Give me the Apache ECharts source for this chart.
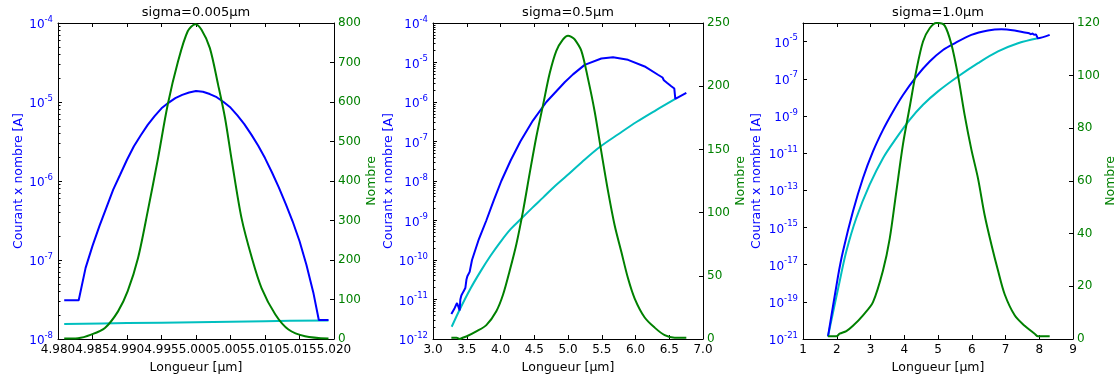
<!DOCTYPE html>
<html><head><meta charset="utf-8">
<script src="https://cdn.jsdelivr.net/npm/echarts@6/dist/echarts.min.js"></script>
<style>html,body{margin:0;padding:0;background:#fff}#chart{width:1117px;height:376px}</style>
</head><body><div id="chart"></div>
<script>
const FONT = 'DejaVu Sans';
const BLUE = '#0000ff', CYAN = '#00bfbf', GREEN = '#008000', AX = '#000000';

const titles = ['sigma=0.005µm', 'sigma=0.5µm', 'sigma=1.0µm'];
const xName = 'Longueur [µm]';
const leftName = 'Courant x nombre [A]';
const rightName = 'Nombre';

// ---- panel 1 (sigma = 0.005 µm)
const p1BlueX = [4.9809, 4.9830, 4.9840, 4.985, 4.986, 4.987, 4.988, 4.989, 4.990, 4.991, 4.992, 4.993, 4.994, 4.995, 4.996, 4.997, 4.998, 4.999, 5.000, 5.001, 5.002, 5.003, 5.004, 5.005, 5.006, 5.007, 5.008, 5.009, 5.010, 5.011, 5.012, 5.013, 5.014, 5.015, 5.016, 5.017, 5.0178, 5.0192];
const p1Blue = [3.09e-8, 3.09e-8, 7.94e-8, 1.51e-7, 2.69e-7, 4.57e-7, 7.76e-7, 1.20e-6, 1.86e-6, 2.75e-6, 3.80e-6, 5.13e-6, 6.61e-6, 8.32e-6, 9.77e-6, 1.12e-5, 1.23e-5, 1.32e-5, 1.38e-5, 1.35e-5, 1.26e-5, 1.15e-5, 1.00e-5, 8.51e-6, 6.76e-6, 5.25e-6, 3.89e-6, 2.82e-6, 1.95e-6, 1.29e-6, 8.32e-7, 5.13e-7, 3.09e-7, 1.74e-7, 8.71e-8, 3.89e-8, 1.74e-8, 1.74e-8];
const p1CyanX = [4.9809, 4.990, 5.000, 5.010, 5.0192];
const p1Cyan = [1.55e-8, 1.59e-8, 1.63e-8, 1.68e-8, 1.72e-8];
const p1GreenX = [4.9809, 4.9829, 4.9848, 4.9868, 4.9887, 4.9901, 4.9916, 4.9930, 4.9945, 4.9959, 4.9974, 4.9988, 4.9999, 5.0008, 5.0020, 5.0032, 5.0042, 5.0052, 5.0066, 5.0081, 5.0095, 5.0115, 5.0134, 5.0158, 5.0192];
const p1Green = [1, 2, 11, 28, 70, 121, 205, 323, 458, 593, 703, 779, 797, 783, 737, 644, 560, 450, 306, 205, 129, 62, 24, 7, 1];

// ---- panel 2 (sigma = 0.5 µm)
const p2BlueX = [3.272, 3.320, 3.356, 3.380, 3.395, 3.405, 3.420, 3.450, 3.479, 3.495, 3.509, 3.543, 3.578, 3.680, 3.790, 3.900, 4.012, 4.150, 4.294, 4.480, 4.679, 4.951, 5.074, 5.247, 5.494, 5.667, 5.889, 6.136, 6.333, 6.400, 6.420, 6.440, 6.470, 6.490, 6.530, 6.550, 6.575, 6.590, 6.753];
const p2Blue = [4.27e-12, 6.03e-12, 8.13e-12, 6.31e-12, 5.25e-12, 1.00e-11, 1.26e-11, 1.58e-11, 1.95e-11, 3.16e-11, 3.89e-11, 5.01e-11, 1.00e-10, 3.39e-10, 1.00e-9, 3.24e-9, 1.00e-8, 3.31e-8, 1.00e-7, 3.39e-7, 1.00e-6, 3.16e-6, 5.01e-6, 8.71e-6, 1.26e-5, 1.35e-5, 1.17e-5, 7.94e-6, 4.90e-6, 4.17e-6, 3.55e-6, 3.80e-6, 3.02e-6, 3.16e-6, 2.51e-6, 2.63e-6, 2.19e-6, 1.20e-6, 1.70e-6];
const p2CyanX = [3.277, 3.40, 3.55, 3.70, 3.85, 4.00, 4.15, 4.31, 4.47, 4.63, 4.80, 4.98, 5.20, 5.47, 5.75, 6.02, 6.30, 6.59];
const p2Cyan = [2.04e-12, 5.75e-12, 1.82e-11, 5.01e-11, 1.26e-10, 2.88e-10, 6.03e-10, 1.12e-9, 2.09e-9, 3.80e-9, 7.24e-9, 1.35e-8, 2.95e-8, 7.24e-8, 1.55e-7, 3.16e-7, 6.17e-7, 1.20e-6];
const p2GreenX = [3.272, 3.350, 3.395, 3.440, 3.494, 3.642, 3.790, 3.938, 4.037, 4.136, 4.235, 4.333, 4.432, 4.531, 4.630, 4.728, 4.827, 4.926, 5.000, 5.050, 5.099, 5.198, 5.296, 5.395, 5.494, 5.593, 5.691, 5.790, 5.889, 5.988, 6.136, 6.284, 6.432, 6.580, 6.753];
const p2Green = [1, 1, 0, 1, 2, 6, 11, 22, 35, 54, 75, 101, 131, 160, 185, 210, 228, 237, 240, 239, 237, 228, 206, 180, 148, 117, 90, 69, 48, 32, 17, 9, 3, 1, 1];

// ---- panel 3 (sigma = 1.0 µm)
const p3BlueX = [1.741, 2.037, 2.185, 2.481, 2.778, 3.074, 3.370, 3.667, 3.963, 4.358, 4.753, 5.148, 5.494, 5.988, 6.481, 6.877, 7.272, 7.568, 7.70, 7.75, 7.80, 7.85, 7.90, 7.963, 8.309];
const p3Blue = [1.38e-21, 2.34e-18, 5.25e-17, 7.41e-15, 4.57e-13, 1.23e-11, 1.78e-10, 1.74e-9, 1.35e-8, 1.32e-7, 8.51e-7, 3.55e-6, 8.13e-6, 2.29e-5, 3.98e-5, 4.68e-5, 3.98e-5, 3.09e-5, 2.82e-5, 2.51e-5, 2.69e-5, 2.34e-5, 2.40e-5, 1.51e-5, 2.29e-5];
const p3CyanX = [1.741, 2.086, 2.284, 2.580, 2.975, 3.370, 3.765, 4.160, 4.556, 5.000, 5.593, 6.185, 6.778, 7.370, 7.963];
const p3Cyan = [1.38e-21, 1.26e-18, 5.25e-17, 3.24e-15, 2.00e-13, 5.37e-12, 6.46e-11, 6.17e-10, 3.98e-9, 2.09e-8, 1.32e-7, 6.92e-7, 2.95e-6, 8.13e-6, 1.51e-5];
const p3GreenX = [1.741, 1.990, 2.086, 2.284, 2.481, 2.778, 3.074, 3.370, 3.568, 3.765, 3.963, 4.160, 4.358, 4.556, 4.753, 4.951, 5.000, 5.198, 5.395, 5.593, 5.790, 5.988, 6.185, 6.383, 6.580, 6.778, 6.975, 7.272, 7.568, 7.864, 7.963, 8.309];
const p3Green = [1, 1, 2, 3, 5, 9, 14, 26, 38, 56, 74, 88, 102, 113, 118, 120, 120, 119, 112, 100, 85, 72, 61, 47, 36, 26, 17, 9, 5, 2, 1, 1];

// axis ranges / ticks
const xRanges = [[4.98, 5.02, 0.005, 3], [3, 7, 0.5, 1], [1, 9, 1, 0]];
const rightRanges = [[0, 800, 100], [0, 250, 50], [0, 120, 20]];

function zip(xs, ys, f) { return xs.map((x, i) => [x, f ? f(ys[i]) : ys[i]]); }
function sup(e) { return '{b|10}{s|' + e + '}'; }
const richSup = {
  b: { fontSize: 12, lineHeight: 16, verticalAlign: 'bottom', color: BLUE, fontFamily: FONT },
  s: { fontSize: 8.5, lineHeight: 9, verticalAlign: 'top', color: BLUE, fontFamily: FONT }
};

const grids = [
  { left: 58, top: 23, width: 276, height: 316 },
  { left: 433, top: 23, width: 270, height: 316 },
  { left: 803, top: 23, width: 270, height: 316 }
].map(g => Object.assign({ outerBoundsMode: 'none', containLabel: false, show: false }, g));

const leftGaps = [33, 38, 40];
const rightGaps = [25, 26, 24];

const tick = { show: true, inside: true, length: 4, lineStyle: { color: AX, width: 1 } };
const line = { show: true, onZero: false, lineStyle: { color: AX, width: 1 } };

const xAxis = [], yAxis = [];
for (let i = 0; i < 3; i++) {
  const [mn, mx, iv, dec] = xRanges[i];
  xAxis.push({
    gridIndex: i, type: 'value', position: 'bottom', min: mn, max: mx, interval: iv,
    axisLine: line, axisTick: tick, splitLine: { show: false },
    axisLabel: { margin: 5, color: '#000', fontSize: 12, fontFamily: FONT, formatter: v => v.toFixed(dec) },
    name: xName, nameLocation: 'middle', nameGap: 20,
    nameTextStyle: { color: '#000', fontSize: 12.5, fontFamily: FONT }
  });
  xAxis.push({
    gridIndex: i, type: 'value', position: 'top', min: mn, max: mx, interval: iv,
    axisLine: line, axisTick: tick, splitLine: { show: false }, axisLabel: { show: false }
  });
  let left;
  if (i < 2) {
    left = {
      gridIndex: i, type: 'log', logBase: 10,
      min: i === 0 ? 1e-8 : 1e-12, max: 1e-4,
      minorTick: { show: true, splitNumber: 9, length: 2.5, lineStyle: { color: AX, width: 1 } },
      minorSplitLine: { show: false },
      axisLabel: { margin: 5, formatter: v => sup(Math.round(Math.log10(v))), rich: richSup }
    };
  } else {
    left = {
      gridIndex: i, type: 'value', min: -21, max: -4, interval: 2,
      axisLabel: {
        margin: 5, showMaxLabel: false, rich: richSup,
        formatter: v => { const e = Math.round(v); return ((e + 21) % 2 === 0 && e < -4) ? sup(e) : ''; }
      }
    };
  }
  Object.assign(left, {
    position: 'left', axisLine: line, axisTick: tick, splitLine: { show: false },
    name: leftName, nameLocation: 'middle', nameGap: leftGaps[i], nameRotate: 90,
    nameTextStyle: { color: BLUE, fontSize: 12.5, fontFamily: FONT }
  });
  yAxis.push(left);
  const [rmn, rmx, riv] = rightRanges[i];
  yAxis.push({
    gridIndex: i, type: 'value', position: 'right', min: rmn, max: rmx, interval: riv,
    axisLine: line, axisTick: tick, splitLine: { show: false },
    axisLabel: { margin: 4, color: GREEN, fontSize: 12, fontFamily: FONT },
    name: rightName, nameLocation: 'middle', nameGap: rightGaps[i], nameRotate: 90,
    nameTextStyle: { color: GREEN, fontSize: 12.5, fontFamily: FONT }
  });
}

const lg = v => Math.log10(v);
const panels = [
  [zip(p1CyanX, p1Cyan), zip(p1BlueX, p1Blue), zip(p1GreenX, p1Green)],
  [zip(p2CyanX, p2Cyan), zip(p2BlueX, p2Blue), zip(p2GreenX, p2Green)],
  [zip(p3CyanX, p3Cyan, lg), zip(p3BlueX, p3Blue, lg), zip(p3GreenX, p3Green)]
];

const series = [];
panels.forEach((p, i) => {
  const base = { type: 'line', xAxisIndex: 2 * i, showSymbol: false, symbol: 'none', animation: false, clip: true, silent: true };
  series.push(Object.assign({}, base, { yAxisIndex: 2 * i, data: p[0], smooth: 0.35, lineStyle: { color: CYAN, width: 2 }, itemStyle: { color: CYAN }, z: 2 }));
  series.push(Object.assign({}, base, { yAxisIndex: 2 * i, data: p[1], smooth: i === 2 ? 0.25 : false, lineStyle: { color: BLUE, width: 2 }, itemStyle: { color: BLUE }, z: 3 }));
  series.push(Object.assign({}, base, { yAxisIndex: 2 * i + 1, data: p[2], smooth: 0.3, lineStyle: { color: GREEN, width: 2 }, itemStyle: { color: GREEN }, z: 4 }));
});

const titleX = grids.map(g => g.left + g.width / 2);
const graphic = titles.map((t, i) => ({
  type: 'text', x: titleX[i], y: 13,
  style: { text: t, fill: '#000', font: '13px "DejaVu Sans"', align: 'center', verticalAlign: 'middle' }
}));

const chart = echarts.init(document.getElementById('chart'), null, { renderer: 'canvas' });
chart.setOption({
  backgroundColor: '#fff',
  animation: false,
  textStyle: { fontFamily: FONT },
  grid: grids, xAxis, yAxis, series, graphic
});
</script></body></html>
